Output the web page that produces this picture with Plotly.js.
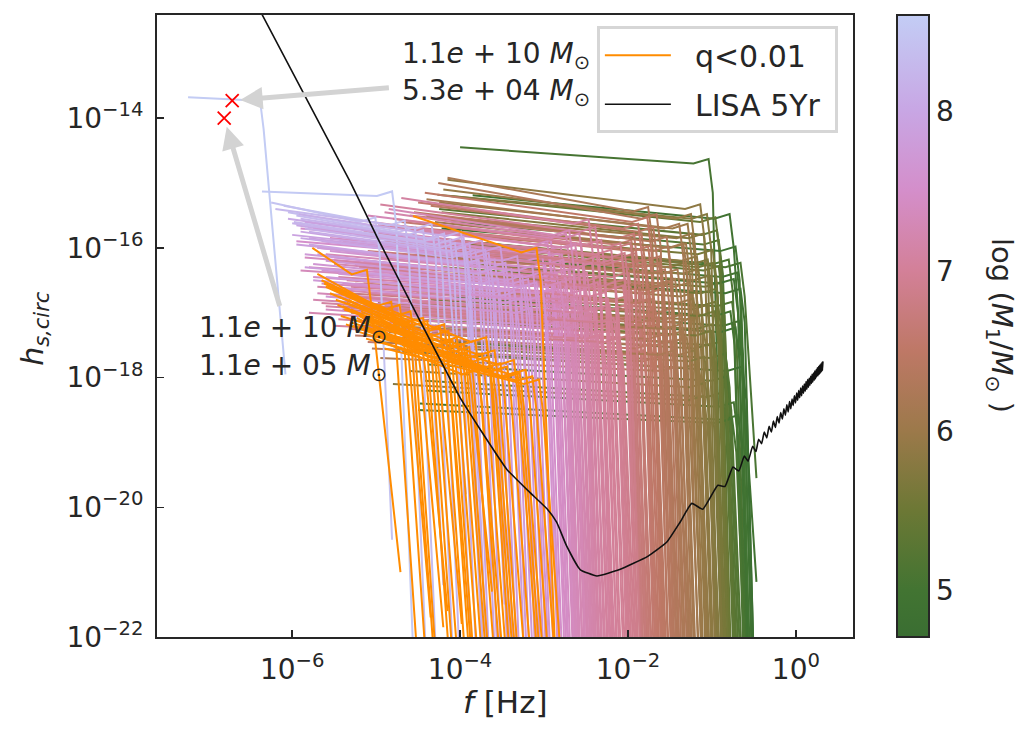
<!DOCTYPE html>
<html><head><meta charset="utf-8">
<script src="https://cdn.plot.ly/plotly-3.0.1.min.js"></script>
<style>body{margin:0;background:#fff}</style>
</head><body><div id="chart" style="width:1033px;height:735px"></div>
<script>
// Each colored track: [log10 M1, log10 f_start, log10 h_start, log10 f_knee, log10 h_knee, log10 f_end, log10 h_end]
const tracksGreen = [
[5.05,-4.00,-14.45,-1.00,-14.70,-0.85,-22.5],
[4.95,-3.85,-15.19,-0.75,-15.55,-0.47,-21.15],
[5.10,-4.30,-15.85,-0.62,-16.30,-0.47,-19.55],
[5.20,-4.10,-15.60,-0.88,-15.95,-0.70,-22.5],
[4.85,-4.20,-16.40,-0.62,-16.70,-0.50,-22.5],
[5.00,-4.05,-16.10,-0.66,-16.45,-0.52,-22.5],
[5.30,-4.25,-15.40,-0.90,-15.80,-0.74,-22.5],
[4.90,-4.35,-16.90,-0.64,-17.20,-0.52,-22.5],
[5.15,-4.15,-16.60,-0.72,-16.90,-0.58,-22.5],
[4.80,-4.45,-17.60,-0.60,-17.90,-0.50,-22.5],
[5.25,-4.30,-17.20,-0.82,-17.50,-0.68,-22.5],
[5.05,-4.40,-18.20,-0.70,-18.45,-0.58,-22.5],
[4.95,-4.48,-18.40,-0.65,-18.65,-0.54,-22.5],
[5.35,-4.20,-16.30,-0.86,-16.60,-0.72,-22.5],
[5.12,-4.00,-15.90,-0.76,-16.25,-0.62,-22.5],
[5.40,-4.12,-15.20,-0.92,-15.60,-0.77,-22.5],
[4.88,-4.25,-17.00,-0.68,-17.30,-0.56,-22.5],
[5.18,-4.38,-17.80,-0.78,-18.05,-0.64,-22.5],
[5.02,-4.08,-16.75,-0.74,-17.05,-0.60,-22.5],
[5.28,-4.42,-18.05,-0.84,-18.30,-0.70,-22.5],
[4.92,-4.30,-16.20,-0.70,-16.55,-0.57,-22.5],
[5.22,-4.18,-17.45,-0.80,-17.70,-0.66,-22.5],
[5.08,-4.50,-18.50,-0.72,-18.70,-0.60,-22.5],
[5.32,-4.02,-16.00,-0.88,-16.35,-0.73,-22.5],
[4.98,-4.22,-15.70,-0.68,-16.05,-0.55,-22.5]
];
const tracksOlive = [
[5.85,-4.15,-14.95,-1.10,-15.40,-0.96,-22.5],
[5.75,-4.27,-15.18,-1.02,-15.55,-0.88,-22.5],
[5.95,-4.40,-15.50,-1.20,-15.85,-1.05,-22.5],
[5.60,-4.30,-15.75,-0.95,-16.10,-0.82,-22.5],
[6.00,-4.55,-16.00,-1.28,-16.30,-1.12,-22.5],
[5.70,-4.35,-16.20,-1.00,-16.50,-0.86,-22.5],
[5.90,-4.50,-16.45,-1.15,-16.75,-1.00,-22.5],
[5.55,-4.20,-16.60,-0.92,-16.90,-0.79,-22.5],
[5.80,-4.62,-16.85,-1.08,-17.10,-0.94,-22.5],
[6.05,-4.70,-17.10,-1.30,-17.35,-1.15,-22.5],
[5.65,-4.45,-17.30,-0.98,-17.55,-0.85,-22.5],
[5.88,-4.75,-17.60,-1.12,-17.85,-0.98,-22.5],
[5.72,-4.60,-17.90,-1.04,-18.15,-0.90,-22.5],
[5.98,-4.25,-15.30,-1.25,-15.70,-1.10,-22.5],
[5.58,-4.10,-15.95,-0.94,-16.30,-0.80,-22.5],
[5.83,-4.38,-15.85,-1.14,-16.20,-0.99,-22.5],
[5.68,-4.52,-16.70,-1.02,-16.95,-0.88,-22.5],
[5.93,-4.65,-16.30,-1.22,-16.60,-1.07,-22.5],
[5.62,-4.40,-17.00,-0.96,-17.25,-0.83,-22.5],
[5.78,-4.80,-18.10,-1.06,-18.35,-0.92,-22.5],
[6.02,-4.33,-15.65,-1.27,-16.00,-1.12,-22.5],
[5.52,-4.18,-16.40,-0.91,-16.70,-0.78,-22.5],
[5.86,-4.58,-17.40,-1.17,-17.65,-1.02,-22.5],
[5.74,-4.22,-15.45,-1.06,-15.85,-0.92,-22.5],
[5.96,-4.70,-16.90,-1.19,-17.15,-1.04,-22.5],
[5.99,-4.85,-17.20,-1.26,-17.45,-1.11,-22.5],
[5.91,-4.60,-16.60,-1.18,-16.85,-1.03,-22.5],
[5.84,-4.45,-16.10,-1.13,-16.40,-0.98,-22.5],
[5.76,-4.70,-17.50,-1.05,-17.75,-0.91,-22.5],
[5.69,-4.30,-15.90,-1.01,-16.25,-0.87,-22.5],
[5.63,-4.55,-17.10,-0.97,-17.35,-0.84,-22.5],
[5.56,-4.35,-16.80,-0.93,-17.05,-0.80,-22.5],
[5.94,-4.20,-15.10,-1.21,-15.55,-1.06,-22.5]
];
const tracksBrown = [
[6.20,-4.15,-14.92,-1.72,-15.44,-1.58,-22.5],
[6.30,-4.26,-15.00,-1.62,-15.55,-1.48,-22.5],
[6.15,-4.40,-15.25,-1.35,-15.70,-1.21,-22.5],
[6.45,-4.55,-15.45,-1.80,-15.85,-1.65,-22.5],
[6.60,-4.70,-15.60,-1.92,-15.95,-1.77,-22.5],
[6.25,-4.50,-15.75,-1.48,-16.05,-1.34,-22.5],
[6.38,-4.62,-15.90,-1.58,-16.20,-1.44,-22.5],
[6.52,-4.80,-16.00,-1.75,-16.30,-1.60,-22.5],
[6.70,-4.95,-16.15,-1.97,-16.45,-1.82,-22.5],
[6.18,-4.45,-16.30,-1.40,-16.55,-1.26,-22.5],
[6.33,-4.72,-16.45,-1.55,-16.70,-1.41,-22.5],
[6.48,-4.88,-16.60,-1.70,-16.85,-1.55,-22.5],
[6.62,-5.05,-16.70,-1.86,-16.95,-1.71,-22.5],
[6.12,-4.60,-16.85,-1.33,-17.10,-1.19,-22.5],
[6.40,-4.90,-17.00,-1.62,-17.25,-1.48,-22.5],
[6.75,-5.20,-16.90,-2.00,-17.15,-1.84,-22.5],
[6.28,-4.85,-17.30,-1.45,-17.50,-1.31,-22.5],
[6.55,-5.10,-17.45,-1.78,-17.65,-1.63,-22.5],
[6.22,-4.95,-17.70,-1.38,-17.90,-1.24,-22.5],
[6.42,-4.35,-15.35,-1.66,-15.75,-1.52,-22.5],
[6.65,-4.60,-15.50,-1.89,-15.85,-1.74,-22.5],
[6.35,-4.75,-16.10,-1.52,-16.40,-1.38,-22.5],
[6.58,-5.00,-16.35,-1.82,-16.60,-1.67,-22.5],
[6.10,-4.30,-15.60,-1.30,-16.00,-1.16,-22.5],
[6.50,-4.42,-15.15,-1.73,-15.60,-1.59,-22.5],
[6.68,-5.15,-16.55,-1.94,-16.80,-1.79,-22.5],
[6.26,-4.68,-16.75,-1.43,-17.00,-1.29,-22.5],
[6.46,-4.98,-16.85,-1.68,-17.10,-1.54,-22.5],
[6.78,-5.25,-16.25,-1.99,-16.55,-1.84,-22.5],
[6.36,-5.05,-17.55,-1.60,-17.75,-1.46,-22.5],
[6.72,-5.10,-16.05,-1.96,-16.35,-1.81,-22.5],
[6.63,-4.85,-15.80,-1.87,-16.15,-1.72,-22.5],
[6.56,-5.30,-17.00,-1.80,-17.25,-1.65,-22.5],
[6.49,-4.65,-15.70,-1.72,-16.05,-1.57,-22.5],
[6.43,-5.00,-16.60,-1.65,-16.85,-1.51,-22.5],
[6.37,-4.55,-15.95,-1.59,-16.30,-1.45,-22.5],
[6.31,-5.15,-17.20,-1.53,-17.40,-1.39,-22.5],
[6.24,-4.70,-16.35,-1.46,-16.60,-1.32,-22.5],
[6.16,-4.50,-16.10,-1.37,-16.40,-1.23,-22.5],
[6.76,-5.35,-16.70,-1.98,-16.95,-1.83,-22.5],
[6.66,-5.20,-17.20,-1.90,-17.40,-1.75,-22.5],
[6.53,-4.75,-15.90,-1.77,-16.25,-1.62,-22.5],
[6.47,-5.25,-17.35,-1.69,-17.55,-1.55,-22.5],
[6.39,-4.90,-16.90,-1.61,-17.15,-1.47,-22.5],
[6.29,-4.40,-15.50,-1.50,-15.90,-1.36,-22.5],
[6.21,-5.00,-17.45,-1.41,-17.65,-1.27,-22.5],
[6.13,-4.80,-17.00,-1.34,-17.25,-1.20,-22.5],
[6.59,-4.50,-15.30,-1.84,-15.70,-1.69,-22.5],
[6.34,-5.10,-16.40,-1.56,-16.65,-1.42,-22.5],
[6.70,-4.80,-15.65,-1.93,-16.00,-1.78,-22.5]
];
const tracksPink = [
[7.10,-4.70,-15.23,-2.43,-15.63,-2.28,-22.5],
[7.05,-4.95,-15.33,-2.35,-15.75,-2.20,-22.5],
[7.30,-5.10,-15.50,-2.70,-15.85,-2.54,-22.5],
[6.90,-4.85,-15.65,-2.05,-16.00,-1.90,-22.5],
[7.45,-5.40,-15.60,-2.88,-15.95,-2.71,-22.5],
[7.20,-5.25,-15.80,-2.58,-16.10,-2.42,-22.5],
[6.95,-5.00,-15.95,-2.15,-16.25,-2.00,-22.5],
[7.38,-5.55,-15.85,-2.78,-16.15,-2.62,-22.5],
[7.15,-5.35,-16.05,-2.50,-16.35,-2.35,-22.5],
[7.00,-5.15,-16.20,-2.25,-16.50,-2.10,-22.5],
[7.50,-5.70,-16.00,-2.95,-16.30,-2.78,-22.5],
[7.25,-5.50,-16.25,-2.64,-16.55,-2.48,-22.5],
[6.88,-5.05,-16.40,-2.02,-16.65,-1.87,-22.5],
[7.42,-5.80,-16.30,-2.84,-16.55,-2.68,-22.5],
[7.12,-5.45,-16.45,-2.46,-16.70,-2.31,-22.5],
[6.98,-5.30,-16.60,-2.20,-16.85,-2.05,-22.5],
[7.33,-5.65,-16.55,-2.74,-16.80,-2.58,-22.5],
[7.08,-5.55,-16.75,-2.38,-17.00,-2.23,-22.5],
[7.22,-5.75,-16.80,-2.60,-17.05,-2.44,-22.5],
[6.92,-5.40,-16.95,-2.10,-17.20,-1.95,-22.5],
[7.48,-5.90,-15.70,-2.92,-16.00,-2.75,-22.5],
[7.18,-4.90,-15.45,-2.54,-15.85,-2.39,-22.5],
[7.02,-4.80,-15.55,-2.28,-15.95,-2.13,-22.5],
[7.35,-5.20,-15.70,-2.76,-16.05,-2.60,-22.5],
[6.86,-4.75,-15.80,-2.00,-16.15,-1.85,-22.5],
[7.28,-5.60,-16.10,-2.67,-16.40,-2.51,-22.5],
[7.06,-5.20,-16.30,-2.32,-16.60,-2.17,-22.5],
[7.40,-5.85,-16.15,-2.81,-16.45,-2.65,-22.5],
[6.96,-5.10,-16.70,-2.18,-16.95,-2.03,-22.5],
[7.14,-5.60,-16.90,-2.48,-17.15,-2.33,-22.5],
[7.24,-5.35,-15.95,-2.62,-16.25,-2.46,-22.5],
[7.52,-5.95,-15.90,-2.98,-16.20,-2.81,-22.5],
[6.90,-5.25,-17.05,-2.08,-17.30,-1.93,-22.5],
[7.04,-5.45,-17.10,-2.30,-17.35,-2.15,-22.5],
[7.32,-5.70,-16.70,-2.72,-16.95,-2.56,-22.5],
[7.16,-4.98,-15.65,-2.52,-16.00,-2.37,-22.5],
[7.44,-5.30,-15.75,-2.90,-16.10,-2.73,-22.5],
[7.36,-5.15,-16.40,-2.80,-16.70,-2.64,-22.5],
[7.27,-5.45,-16.65,-2.69,-16.90,-2.53,-22.5],
[7.21,-5.05,-15.60,-2.59,-16.00,-2.43,-22.5],
[7.13,-5.50,-16.20,-2.49,-16.50,-2.34,-22.5],
[7.09,-5.65,-16.85,-2.41,-17.10,-2.26,-22.5],
[7.03,-5.00,-15.85,-2.33,-16.20,-2.18,-22.5],
[6.99,-5.35,-16.50,-2.23,-16.75,-2.08,-22.5],
[6.93,-5.20,-16.30,-2.12,-16.60,-1.97,-22.5],
[6.87,-4.90,-15.90,-2.03,-16.25,-1.88,-22.5],
[7.46,-5.75,-16.45,-2.86,-16.70,-2.70,-22.5],
[7.31,-5.40,-15.90,-2.73,-16.25,-2.57,-22.5],
[7.19,-5.70,-16.60,-2.56,-16.85,-2.40,-22.5],
[7.07,-5.35,-16.75,-2.36,-17.00,-2.21,-22.5],
[6.97,-5.15,-15.75,-2.16,-16.10,-2.01,-22.5],
[7.39,-5.60,-16.95,-2.79,-17.20,-2.63,-22.5],
[7.23,-5.80,-17.00,-2.63,-17.25,-2.47,-22.5],
[7.11,-5.05,-16.10,-2.45,-16.45,-2.30,-22.5],
[7.01,-5.50,-17.20,-2.27,-17.40,-2.12,-22.5],
[6.89,-5.30,-17.25,-2.06,-17.45,-1.91,-22.5],
[7.29,-4.85,-15.40,-2.66,-15.80,-2.50,-22.5],
[7.17,-5.25,-16.55,-2.53,-16.80,-2.38,-22.5],
[6.94,-5.45,-16.90,-2.13,-17.15,-1.98,-22.5],
[7.34,-5.90,-16.35,-2.77,-16.60,-2.61,-22.5],
[7.05,-4.88,-15.95,-2.39,-16.30,-2.24,-22.5]
];
const tracksOrchid = [
[8.05,-6.05,-15.55,-3.92,-15.90,-3.72,-22.5],
[7.98,-5.95,-15.65,-3.85,-16.00,-3.65,-22.5],
[7.95,-5.90,-15.75,-3.78,-16.10,-3.58,-22.5],
[7.90,-5.85,-15.60,-3.70,-15.95,-3.51,-22.5],
[7.88,-5.80,-15.85,-3.62,-16.15,-3.43,-22.5],
[7.85,-5.95,-15.95,-3.55,-16.25,-3.36,-22.5],
[7.80,-5.75,-15.70,-3.48,-16.05,-3.29,-22.5],
[7.78,-5.70,-16.00,-3.42,-16.30,-3.23,-22.5],
[7.75,-5.85,-16.10,-3.35,-16.40,-3.17,-22.5],
[7.72,-5.65,-15.90,-3.28,-16.20,-3.10,-22.5],
[7.70,-5.60,-16.20,-3.22,-16.50,-3.04,-22.5],
[7.66,-5.75,-16.25,-3.15,-16.55,-2.97,-22.5],
[7.64,-5.55,-16.05,-3.10,-16.35,-2.92,-22.5],
[7.62,-5.65,-16.35,-3.05,-16.60,-2.88,-22.5],
[7.60,-5.50,-16.15,-3.00,-16.45,-2.83,-22.5],
[7.92,-6.00,-15.80,-3.66,-16.10,-3.47,-21.5],
[8.00,-5.90,-15.85,-3.88,-16.15,-3.68,-22.5],
[7.93,-5.80,-15.95,-3.74,-16.25,-3.55,-22.5],
[7.86,-5.70,-16.10,-3.59,-16.40,-3.40,-22.5],
[7.82,-5.85,-16.30,-3.51,-16.55,-3.32,-22.5],
[7.76,-5.60,-16.45,-3.38,-16.70,-3.20,-22.5],
[7.73,-5.75,-16.50,-3.31,-16.75,-3.13,-22.5],
[7.69,-5.55,-16.60,-3.25,-16.85,-3.07,-22.5],
[7.67,-5.45,-16.40,-3.18,-16.65,-3.00,-22.5],
[7.63,-5.60,-16.75,-3.12,-17.00,-2.94,-22.5],
[7.58,-5.40,-16.55,-2.97,-16.80,-2.80,-22.5]
];
const tracksLavender = [
[8.58,-7.24,-13.68,-6.35,-13.72,-6.08,-17.95],
[8.55,-6.36,-15.13,-4.77,-15.20,-4.55,-22.5],
[8.45,-6.25,-15.30,-4.97,-15.60,-4.81,-20.50],
[8.40,-6.10,-15.35,-4.62,-15.65,-4.40,-22.5],
[8.35,-6.05,-15.45,-4.50,-15.75,-4.28,-22.5],
[8.30,-5.95,-15.50,-4.40,-15.80,-4.20,-21.20],
[8.28,-6.20,-15.40,-4.30,-15.70,-4.08,-22.5],
[8.25,-5.98,-15.60,-4.22,-15.90,-4.00,-22.5],
[8.20,-5.90,-15.55,-4.15,-15.85,-3.93,-19.80],
[8.18,-6.00,-15.62,-4.08,-15.95,-3.86,-22.5],
[8.15,-5.85,-15.70,-4.02,-16.00,-3.80,-22.5],
[8.12,-5.92,-15.48,-3.95,-15.82,-3.73,-22.5],
[8.10,-5.80,-15.75,-3.90,-16.05,-3.68,-22.5]
];
// q<0.01 tracks: [log10 f_start, log10 h_start, log10 f_knee, log10 h_knee, log10 f_end, log10 h_end]
const tracksOrange = [
[-4.56,-15.51,-3.05,-16.07,-2.86,-22.5],
[-5.76,-16.00,-5.07,-16.41,-4.71,-21.00],
[-5.62,-16.55,-4.55,-17.05,-4.28,-22.5],
[-5.50,-16.65,-4.40,-17.15,-4.12,-22.5],
[-5.40,-16.90,-4.62,-17.25,-4.35,-21.70],
[-5.30,-16.95,-4.30,-17.40,-4.02,-22.5],
[-5.45,-16.75,-4.20,-17.30,-3.93,-22.5],
[-5.20,-17.05,-4.48,-17.45,-4.20,-21.85],
[-5.55,-16.70,-4.10,-17.35,-3.83,-22.5],
[-5.35,-16.85,-4.00,-17.45,-3.73,-22.5],
[-5.25,-17.00,-3.92,-17.55,-3.65,-22.5],
[-5.15,-17.10,-3.85,-17.60,-3.58,-22.5],
[-5.60,-16.60,-4.35,-17.20,-4.08,-22.5],
[-5.05,-17.20,-4.25,-17.60,-3.98,-21.80],
[-5.48,-16.80,-3.78,-17.50,-3.52,-22.5],
[-5.30,-17.15,-3.70,-17.70,-3.44,-22.5],
[-5.10,-17.25,-3.62,-17.75,-3.36,-22.5],
[-5.38,-16.95,-3.55,-17.65,-3.30,-22.5],
[-5.20,-17.30,-3.48,-17.85,-3.22,-22.5],
[-5.00,-17.35,-3.40,-17.90,-3.15,-22.5],
[-5.42,-17.05,-3.32,-17.80,-3.07,-22.5],
[-4.95,-17.45,-3.25,-18.00,-3.00,-22.5],
[-5.28,-17.20,-3.18,-17.95,-2.94,-22.5],
[-5.12,-17.40,-3.10,-18.05,-2.86,-22.5],
[-4.90,-17.55,-3.02,-18.10,-2.79,-22.5],
[-5.65,-16.50,-4.68,-16.95,-4.40,-22.5],
[-5.52,-16.62,-4.15,-17.25,-3.88,-22.5],
[-5.33,-16.80,-4.58,-17.20,-4.30,-22.5],
[-5.18,-16.98,-4.05,-17.50,-3.78,-22.5],
[-5.46,-16.88,-3.95,-17.55,-3.68,-22.5],
[-5.08,-17.12,-3.88,-17.68,-3.62,-21.30],
[-5.58,-16.58,-3.65,-17.45,-3.40,-22.5],
[-5.23,-17.08,-4.42,-17.48,-4.15,-21.60],
[-4.98,-17.30,-3.58,-17.88,-3.33,-22.5],
[-5.36,-17.18,-3.28,-17.98,-3.04,-22.5],
[-5.70,-16.40,-4.78,-16.90,-4.50,-22.5],
[-5.14,-17.22,-4.12,-17.70,-3.85,-22.5],
[-5.02,-17.40,-3.75,-17.95,-3.48,-22.5]
];
// LISA 5 yr sensitivity curve (log10 f, log10 h)
const lisaLogF = [-6.38,-5.31,-4.99,-4.50,-4.00,-3.76,-3.44,-3.17,-2.96,-2.85,-2.73,-2.57,-2.37,-2.10,-1.77,-1.54,-1.38,-1.24,-1.11,-0.93,-0.845,-0.75,-0.68,-0.615,-0.57,-0.515,-0.476,
-0.444,-0.409,-0.377,-0.347,-0.319,-0.292,-0.268,-0.244,-0.222,-0.201,-0.181,-0.161,-0.143,-0.125,-0.108,-0.092,-0.076,-0.061,-0.046,-0.032,-0.018,-0.004,0.009,0.021,0.033,0.045,0.057,0.068,0.079,0.090,0.100,0.111,0.121,0.130,0.140,0.149,0.158,0.167,0.176,0.185,0.193,0.201,0.210,0.218,0.225,0.233,0.241,0.248,0.255,0.263,0.270,0.277,0.283,0.290,0.297,0.303,0.310,0.316,0.322];
const lisaLogH = [-12.35,-14.98,-15.83,-17.07,-18.31,-18.80,-19.42,-19.77,-20.03,-20.23,-20.60,-20.96,-21.06,-20.96,-20.76,-20.54,-20.23,-19.94,-20.03,-19.66,-19.68,-19.38,-19.44,-19.21,-19.29,-19.06,-19.14,
-18.95,-19.02,-18.84,-18.93,-18.75,-18.84,-18.67,-18.77,-18.60,-18.70,-18.54,-18.64,-18.48,-18.58,-18.42,-18.53,-18.37,-18.48,-18.33,-18.43,-18.28,-18.39,-18.24,-18.35,-18.20,-18.31,-18.16,-18.28,-18.13,-18.24,-18.10,-18.21,-18.06,-18.18,-18.03,-18.15,-18.01,-18.12,-17.98,-18.09,-17.95,-18.07,-17.93,-18.04,-17.90,-18.02,-17.88,-17.99,-17.85,-17.97,-17.83,-17.95,-17.81,-17.93,-17.79,-17.91,-17.77,-17.89,-17.75];
// highlighted systems (red crosses)
const markerF = [1.93e-7, 1.55e-7];
const markerH = [1.86e-14, 1.0e-14];
const markerLabels = [["1.1","10","5.3","04"],["1.1","10","1.1","05"]];
// colour map for log10(M1/Msun)
const cMin = 4.71, cMax = 8.6;
const colorStops = [[4.71,[58,110,50]],[5.0,[66,116,50]],[5.5,[108,120,53]],[6.0,[156,121,74]],[6.5,[190,120,102]],[7.0,[211,128,152]],[7.5,[212,142,202]],[8.0,[200,166,228]],[8.6,[195,205,245]]];
const xTickVals = [1e-6,1e-4,1e-2,1];
const xTickText = ["10<sup>−6</sup>","10<sup>−4</sup>","10<sup>−2</sup>","10<sup>0</sup>"];
const yTickVals = [1e-22,1e-20,1e-18,1e-16,1e-14];
const yTickText = ["10<sup>−22</sup>","10<sup>−20</sup>","10<sup>−18</sup>","10<sup>−16</sup>","10<sup>−14</sup>"];
const cbTicks = [5,6,7,8];

function rgbStr(c){return 'rgb('+c.map(v=>Math.round(v)).join(',')+')';}
function colorFor(v){
  if(v<=colorStops[0][0]) return rgbStr(colorStops[0][1]);
  for(let i=1;i<colorStops.length;i++){
    if(v<=colorStops[i][0]){
      const a=colorStops[i-1], b=colorStops[i];
      const t=(v-a[0])/(b[0]-a[0]);
      return rgbStr(a[1].map((c,k)=>c+(b[1][k]-c)*t));
    }
  }
  return rgbStr(colorStops[colorStops.length-1][1]);
}
const P = v=>Math.pow(10,v);
// path through the read points, with a small rounded bump before the plunge
function trackXY(f0,h0,fk,hk,fe,he){
  const lf=[f0, fk-0.22, fk-0.04, fk+0.01, fe];
  const lh=[h0, hk, hk+0.07, hk-0.45, he];
  return {x:lf.map(P), y:lh.map(P)};
}
const FONT = 'DejaVu Sans, Arial, sans-serif';
const TXT = '#262626';
const traces = [];
[tracksGreen, tracksOlive, tracksBrown, tracksPink, tracksOrchid, tracksLavender].forEach(group=>{
  group.forEach(r=>{
    const xy = trackXY(r[1],r[2],r[3],r[4],r[5],r[6]);
    traces.push({type:'scatter',mode:'lines',x:xy.x,y:xy.y,line:{color:colorFor(r[0]),width:2},showlegend:false,hoverinfo:'skip'});
  });
});
tracksOrange.forEach((r,i)=>{
  const xy = trackXY(r[0],r[1],r[2],r[3],r[4],r[5]);
  traces.push({type:'scatter',mode:'lines',x:xy.x,y:xy.y,line:{color:'#ff8c00',width:2},
    name:'&nbsp;&nbsp;q&lt;0.01',legendgroup:'q',showlegend:i===0,hoverinfo:'skip'});
});
traces.push({type:'scatter',mode:'lines',x:lisaLogF.map(P),y:lisaLogH.map(P),line:{color:'#111111',width:1.6,shape:'spline',smoothing:0.4},
  name:'&nbsp;&nbsp;LISA 5Yr&nbsp;',legendgroup:'lisa',showlegend:true,hoverinfo:'skip'});
traces.push({type:'scatter',mode:'markers',x:markerF,y:markerH,marker:{symbol:'x-thin',size:13,color:'red',line:{color:'red',width:1.8}},showlegend:false,hoverinfo:'skip'});
// colorbar carrier
traces.push({type:'scatter',mode:'markers',x:[1e-12,1e-12],y:[1e-30,1e-30],showlegend:false,hoverinfo:'skip',
  marker:{color:[cMin,cMax],cmin:cMin,cmax:cMax,opacity:0,
    colorscale:colorStops.map(s=>[(s[0]-cMin)/(cMax-cMin),rgbStr(s[1])]),showscale:true,
    colorbar:{x:1.063,xanchor:'left',xpad:0,ypad:0,y:0.5,yanchor:'middle',len:1,lenmode:'fraction',thickness:32,
      outlinewidth:2,outlinecolor:TXT,tickvals:cbTicks,ticks:'',tickfont:{family:FONT,size:28,color:TXT}}}});

function lbl(a,b){return a+'<i>e</i> + '+b+' <i>M</i><sub>⊙</sub>';}
const annotations = [
  {xref:'paper',yref:'paper',x:0.349,y:(637-55)/622,xanchor:'left',yanchor:'middle',showarrow:false,text:lbl(markerLabels[0][0],markerLabels[0][1]),font:{family:FONT,size:28,color:TXT}},
  {xref:'paper',yref:'paper',x:0.349,y:(637-93)/622,xanchor:'left',yanchor:'middle',showarrow:false,text:lbl(markerLabels[0][2],markerLabels[0][3]),font:{family:FONT,size:28,color:TXT}},
  {xref:'paper',yref:'paper',x:0.0575,y:(637-330)/622,xanchor:'left',yanchor:'middle',showarrow:false,text:lbl(markerLabels[1][0],markerLabels[1][1]),font:{family:FONT,size:28,color:TXT}},
  {xref:'paper',yref:'paper',x:0.0575,y:(637-367)/622,xanchor:'left',yanchor:'middle',showarrow:false,text:lbl(markerLabels[1][2],markerLabels[1][3]),font:{family:FONT,size:28,color:TXT}},
  {xref:'x',yref:'y',axref:'x',ayref:'y',x:Math.log10(markerF[0]),y:Math.log10(markerH[0]),ax:-4.83,ay:-13.53,text:'',showarrow:true,arrowhead:2,arrowsize:0.9,arrowwidth:5,arrowcolor:'#d3d3d3',standoff:8},
  {xref:'x',yref:'y',axref:'x',ayref:'y',x:Math.log10(markerF[1]),y:Math.log10(markerH[1]),ax:-6.143,ay:-16.92,text:'',showarrow:true,arrowhead:2,arrowsize:0.9,arrowwidth:5,arrowcolor:'#d3d3d3',standoff:9},
  {xref:'paper',yref:'paper',x:0.5014,y:-0.104,xanchor:'center',yanchor:'middle',showarrow:false,text:'<i>f</i> [Hz]',font:{family:FONT,size:31,color:TXT}},
  {xref:'paper',yref:'paper',x:-0.1753,y:0.497,xanchor:'center',yanchor:'middle',showarrow:false,textangle:-90,text:'<i>h</i><sub><i>s,circ</i></sub>',font:{family:FONT,size:30,color:TXT}},
  {xref:'paper',yref:'paper',x:1.2112,y:0.5,xanchor:'center',yanchor:'middle',showarrow:false,textangle:90,text:'log (<i>M</i><sub>1</sub>/<i>M</i><sub>⊙</sub> )',font:{family:FONT,size:29,color:TXT}}
];
const axisCommon = {type:'log',showgrid:false,zeroline:false,showline:true,linecolor:TXT,linewidth:2,mirror:true,
  ticks:'inside',ticklen:7,tickwidth:1.5,tickcolor:TXT,tickfont:{family:FONT,size:28,color:TXT},ticklabelstandoff:6};
const layout = {
  width:1033,height:735,margin:{l:157,r:180,t:15,b:98},paper_bgcolor:'#fff',plot_bgcolor:'#fff',
  hovermode:false,
  xaxis:Object.assign({},axisCommon,{range:[-7.61,0.68],tickvals:xTickVals,ticktext:xTickText}),
  yaxis:Object.assign({},axisCommon,{range:[-22,-12.41],tickvals:yTickVals,ticktext:yTickText}),
  legend:{x:0.632,y:0.982,xanchor:'left',yanchor:'top',bgcolor:'#fff',bordercolor:'#d6d6d6',borderwidth:3,
    font:{family:FONT,size:30,color:TXT},itemwidth:66,traceorder:'grouped',tracegroupgap:7},
  annotations:annotations,showlegend:true
};
Plotly.newPlot('chart',traces,layout,{staticPlot:true,displayModeBar:false});
</script></body></html>
